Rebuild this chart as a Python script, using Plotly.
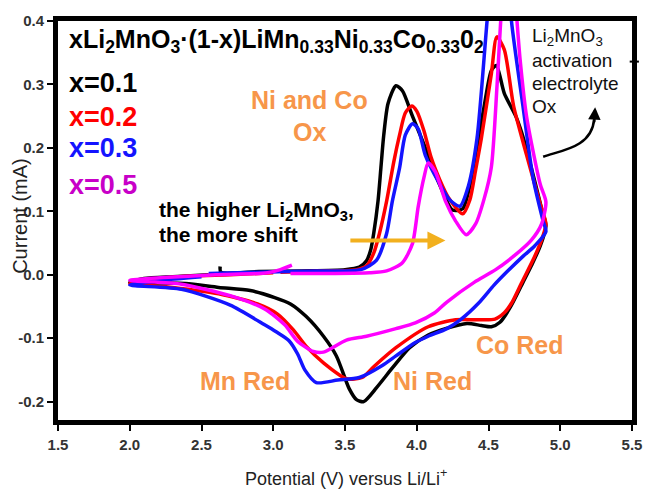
import plotly.graph_objects as go

# Cyclic voltammograms, potential in V vs Li/Li+ and current in mA
v_x01 = [2.63, 2.635, 2.9, 3.2, 3.5, 3.6, 3.65, 3.68, 3.70, 3.73, 3.75, 3.77, 3.80, 3.855, 3.90, 3.97,
         4.06, 4.15, 4.25, 4.32, 4.37, 4.41, 4.47, 4.52, 4.555, 4.61, 4.69, 4.73, 4.78, 4.87, 4.90,
         4.86, 4.80, 4.74, 4.65, 4.58, 4.52, 4.45, 4.35, 4.20, 4.08, 3.95, 3.83, 3.72, 3.63, 3.58,
         3.53, 3.44, 3.35, 3.23, 3.12, 3.01, 2.84, 2.62, 2.39, 2.20, 2.00,
         2.10, 2.30, 2.55]
i_x01 = [0.013, 0.004, 0.005, 0.006, 0.008, 0.012, 0.022, 0.040, 0.065, 0.116, 0.168, 0.220, 0.270, 0.298, 0.290, 0.250,
         0.200, 0.147, 0.102, 0.104, 0.140, 0.189, 0.266, 0.322, 0.330, 0.286, 0.250, 0.225, 0.185, 0.104, 0.077,
         0.045, 0.015, -0.012, -0.052, -0.075, -0.082, -0.080, -0.077, -0.085, -0.095, -0.115, -0.147, -0.178, -0.200, -0.197,
         -0.180, -0.128, -0.097, -0.066, -0.046, -0.036, -0.025, -0.020, -0.014, -0.013, -0.012,
         -0.006, -0.003, 0.000]

v_x02 = [3.05, 3.35, 3.58, 3.65, 3.70, 3.74, 3.79, 3.84, 3.88, 3.92, 3.965, 4.00, 4.05, 4.10, 4.16, 4.22,
         4.32, 4.37, 4.41, 4.45, 4.52, 4.558, 4.61, 4.675, 4.765, 4.86, 4.90,
         4.87, 4.82, 4.73, 4.66, 4.61, 4.545, 4.43, 4.27, 4.08, 3.855, 3.70, 3.62, 3.51, 3.35, 3.23,
         3.14, 3.03, 2.89, 2.62, 2.30, 2.00,
         2.30, 2.70, 3.00]
i_x02 = [0.004, 0.006, 0.008, 0.014, 0.034, 0.065, 0.116, 0.178, 0.220, 0.255, 0.266, 0.258, 0.227, 0.185, 0.150, 0.122,
         0.096, 0.118, 0.165, 0.215, 0.317, 0.375, 0.355, 0.266, 0.189, 0.112, 0.080,
         0.055, 0.028, -0.013, -0.045, -0.060, -0.070, -0.071, -0.071, -0.082, -0.115, -0.145, -0.162, -0.164, -0.139, -0.113,
         -0.087, -0.062, -0.046, -0.030, -0.020, -0.014,
         -0.004, 0.000, 0.003]

v_x03 = [2.55, 2.9, 3.3, 3.61, 3.72, 3.79, 3.83, 3.88, 3.92, 3.97, 4.01, 4.06, 4.15, 4.23, 4.30, 4.36,
         4.42, 4.49, 4.54, 4.585, 4.63, 4.66, 4.74, 4.81, 4.88, 4.90,
         4.82, 4.74, 4.63, 4.54, 4.43, 4.31, 4.21, 4.08, 3.99, 3.855, 3.76, 3.60, 3.45, 3.30, 3.22,
         3.17, 3.11, 3.02, 2.94, 2.70, 2.36, 2.00,
         2.25, 2.50]
i_x03 = [0.002, 0.004, 0.006, 0.008, 0.023, 0.065, 0.116, 0.168, 0.220, 0.238, 0.230, 0.188, 0.147, 0.118, 0.108, 0.140,
         0.215, 0.400, 0.520, 0.560, 0.500, 0.400, 0.266, 0.153, 0.085, 0.068,
         0.045, 0.029, 0.005, -0.016, -0.045, -0.070, -0.085, -0.097, -0.107, -0.128, -0.143, -0.162, -0.166, -0.170, -0.150,
         -0.125, -0.104, -0.090, -0.079, -0.048, -0.023, -0.016,
         -0.008, -0.003]

v_x05 = [3.12, 3.4, 3.67, 3.79, 3.90, 3.97, 4.01, 4.05, 4.08, 4.13, 4.20, 4.27, 4.345, 4.41, 4.47, 4.52,
         4.56, 4.60, 4.64, 4.68, 4.72, 4.765, 4.86, 4.90,
         4.87, 4.80, 4.68, 4.55, 4.40, 4.21, 4.125, 3.99, 3.855, 3.65, 3.51, 3.35, 3.28, 3.17, 3.08,
         2.94, 2.70, 2.36, 2.00,
         2.27, 2.60, 2.96, 3.05, 3.13]
i_x05 = [0.002, 0.002, 0.003, 0.006, 0.019, 0.049, 0.107, 0.153, 0.176, 0.162, 0.116, 0.085, 0.063, 0.080, 0.120, 0.170,
         0.300, 0.450, 0.520, 0.450, 0.340, 0.250, 0.143, 0.115,
         0.080, 0.055, 0.030, 0.008, -0.012, -0.043, -0.060, -0.076, -0.085, -0.097, -0.103, -0.122, -0.121, -0.105, -0.079,
         -0.054, -0.033, -0.015, -0.009,
         -0.004, 0.000, 0.003, 0.008, 0.015]

compositions = ["x=0.1", "x=0.2", "x=0.3", "x=0.5"]
line_colors = ["#000000", "#ff0000", "#1414ff", "#ff00ff"]
label_colors = ["#000000", "#ff0000", "#1414ff", "#c800c8"]

x_tick_vals = [1.5, 2.0, 2.5, 3.0, 3.5, 4.0, 4.5, 5.0, 5.5]
x_tick_text = ["1.5", "2.0", "2.5", "3.0", "3.5", "4.0", "4.5", "5.0", "5.5"]
y_tick_vals = [-0.2, -0.1, 0.0, 0.1, 0.2, 0.3, 0.4]
y_tick_text = ["-0.2", "-0.1", "0.0", "0.1", "0.2", "0.3", "0.4"]

FONT = "Liberation Sans, Arial, sans-serif"
ORANGE = "#f7964a"

fig = go.Figure()
for name, vs, cs, col in zip(compositions,
                             [v_x01, v_x02, v_x03, v_x05],
                             [i_x01, i_x02, i_x03, i_x05],
                             line_colors):
    fig.add_trace(go.Scatter(x=vs, y=cs, mode="lines", name=name,
                             line=dict(color=col, width=3.5, shape="spline", smoothing=0.7)))

annotations = []

def text(x, y, s, size, color="#000000", bold=True, xanchor="left", **kw):
    annotations.append(dict(x=x, y=y, xref="x", yref="y", text=s, showarrow=False,
                            xanchor=xanchor, yanchor="middle",
                            font=dict(family=FONT, size=size, color=color,
                                      weight="bold" if bold else "normal"), **kw))

# Compound formula
text(1.562, 0.368,
     "xLi<sub>2</sub>MnO<sub>3</sub>·(1-x)LiMn<sub>0.33</sub>Ni<sub>0.33</sub>Co<sub>0.33</sub>0<sub>2</sub>", 25)

# Composition key
for lab, col, yy in zip(compositions, label_colors, [0.303, 0.248, 0.200, 0.141]):
    text(1.562, yy, lab, 27, col)

# Peak assignments
text(3.256, 0.275, "Ni and Co", 25, ORANGE, xanchor="center")
text(3.256, 0.225, "Ox", 25, ORANGE, xanchor="center")
text(2.80, -0.167, "Mn Red", 25, ORANGE, xanchor="center")
text(4.108, -0.167, "Ni Red", 25, ORANGE, xanchor="center")
text(4.72, -0.110, "Co Red", 25, ORANGE, xanchor="center")

text(2.187, 0.101, "the higher Li<sub>2</sub>MnO<sub>3</sub>,", 21)
text(2.187, 0.064, "the more shift", 21)

# Note beside the high-voltage peak
for s, yy in zip(["Li<sub>2</sub>MnO<sub>3</sub>", "activation", "electrolyte", "Ox"],
                 [0.374, 0.337, 0.302, 0.266]):
    text(4.792, yy, s, 19, "#111111", bold=False)

# Shift arrow
annotations.append(dict(x=4.20, y=0.054, ax=3.527, ay=0.054, xref="x", yref="y", axref="x", ayref="y",
                        text="", showarrow=True, arrowhead=2, arrowsize=0.9, arrowwidth=4,
                        arrowcolor="#f2b01e"))
# Head of the curved pointer
annotations.append(dict(x=5.243, y=0.264, ax=5.236, ay=0.238, xref="x", yref="y", axref="x", ayref="y",
                        text="", showarrow=True, arrowhead=2, arrowsize=1, arrowwidth=2.5,
                        arrowcolor="#000000"))

# Axis titles
annotations.append(dict(x=0.502, y=-0.143, xref="paper", yref="paper", xanchor="center", yanchor="middle",
                        text="Potential (V) versus Li/Li<sup>+</sup>",
                        showarrow=False, font=dict(family=FONT, size=18, color="#222222")))
annotations.append(dict(x=-0.066, y=0.512, xref="paper", yref="paper", xanchor="center", yanchor="middle",
                        text="Current (mA)", textangle=-90,
                        showarrow=False, font=dict(family=FONT, size=20, color="#222222")))

shapes = [
    dict(type="path", xref="x", yref="y",
         path="M 4.881,0.186 C 5.0,0.196 5.22,0.200 5.236,0.245",
         line=dict(color="#000000", width=2.5)),
    dict(type="line", xref="paper", yref="y", x0=0.996, x1=1.012, y0=0.336, y1=0.336,
         line=dict(color="#000000", width=2)),
]

tickfont = dict(family=FONT, size=15, color="#333333", weight="bold")
fig.update_layout(
    width=654, height=489,
    margin=dict(l=58, r=14, t=14, b=69),
    paper_bgcolor="white", plot_bgcolor="white",
    showlegend=False,
    annotations=annotations,
    shapes=shapes,
    xaxis=dict(range=[1.5, 5.5], tickvals=x_tick_vals, ticktext=x_tick_text,
               ticks="outside", ticklen=6, tickwidth=2, tickcolor="#000000",
               showline=True, linewidth=5, linecolor="#000000", mirror=True,
               showgrid=False, zeroline=False, tickfont=tickfont, ticklabelstandoff=1),
    yaxis=dict(range=[-0.229, 0.4], tickvals=y_tick_vals, ticktext=y_tick_text,
               ticks="outside", ticklen=6, tickwidth=2, tickcolor="#000000",
               showline=True, linewidth=5, linecolor="#000000", mirror=True,
               showgrid=False, zeroline=False, tickfont=tickfont),
)

fig.write_html("out.html")
